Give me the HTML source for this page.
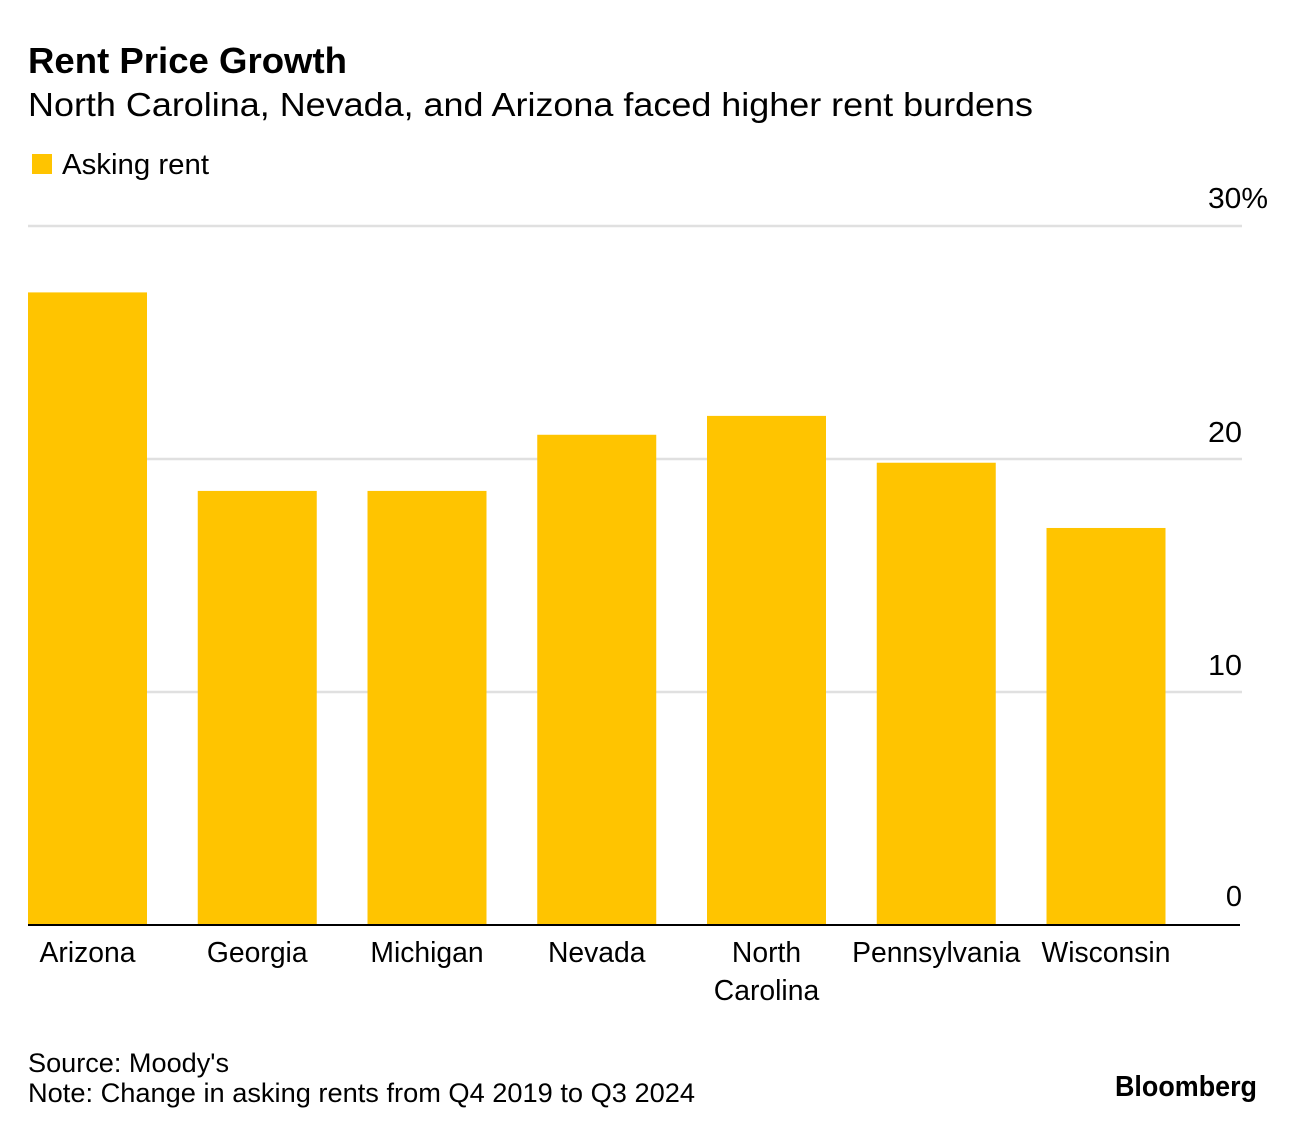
<!DOCTYPE html>
<html>
<head>
<meta charset="utf-8">
<style>
html,body{margin:0;padding:0;background:#fff;width:1296px;height:1132px;overflow:hidden}
svg{display:block}
text{font-family:"Liberation Sans",sans-serif;fill:#000}
</style>
</head>
<body>
<svg id="chart" width="1296" height="1132" viewBox="0 0 1296 1132" xmlns="http://www.w3.org/2000/svg">
<rect width="1296" height="1132" fill="#fff"/>
<text x="28" y="73" font-size="36" font-weight="700" textLength="319" lengthAdjust="spacingAndGlyphs">Rent Price Growth</text>
<text x="28" y="116" font-size="33" textLength="1005" lengthAdjust="spacingAndGlyphs">North Carolina, Nevada, and Arizona faced higher rent burdens</text>
<rect x="32" y="154" width="20" height="20" fill="#ffc400"/>
<text x="62" y="174" font-size="29" textLength="147" lengthAdjust="spacingAndGlyphs">Asking rent</text>
<g id="grid"></g>
<g id="bars"></g>
<g id="xlabels"></g>
<line x1="28" x2="1240" y1="925" y2="925" stroke="#000" stroke-width="2"/>
<text x="28" y="1072" font-size="27" textLength="201" lengthAdjust="spacingAndGlyphs">Source: Moody's</text>
<text x="28" y="1102" font-size="27" textLength="667" lengthAdjust="spacingAndGlyphs">Note: Change in asking rents from Q4 2019 to Q3 2024</text>
<text x="1115" y="1096" font-size="29" font-weight="700" textLength="142" lengthAdjust="spacingAndGlyphs">Bloomberg</text>
</svg>
<script>
const categories = [["Arizona"],["Georgia"],["Michigan"],["Nevada"],["North","Carolina"],["Pennsylvania"],["Wisconsin"]];
const askingRent = [27.15,18.63,18.63,21.04,21.85,19.84,17.04];
const yTicks = [0,10,20,30];
const yTickLabels = ["0","10","20","30%"];

const NS = "http://www.w3.org/2000/svg";
const y = v => 925 - v * (925 - 226) / 30;
const bandStart = i => 28 + i * 169.75;
const barWidth = 119;
const gridG = document.getElementById("grid");
const barsG = document.getElementById("bars");
const xG = document.getElementById("xlabels");

yTicks.forEach((t, i) => {
  if (t !== 0) {
    const l = document.createElementNS(NS, "line");
    
    
    l.setAttribute("x1", 28);
    l.setAttribute("x2", 1242);
    l.setAttribute("y1", y(t));
    l.setAttribute("y2", y(t));
    l.setAttribute("stroke", "#e0e0e0");
    l.setAttribute("stroke-width", 2.5);
    gridG.appendChild(l);
  }
  const tx = document.createElementNS(NS, "text");
  
  
  tx.setAttribute("font-size", 29);
  if (t === 30) {
    tx.setAttribute("x", 1208);
    tx.setAttribute("y", y(t) - 18);
    tx.setAttribute("textLength", 60);
    tx.setAttribute("lengthAdjust", "spacingAndGlyphs");
  } else {
    tx.setAttribute("x", 1242);
    tx.setAttribute("y", y(t) - (t === 0 ? 19 : 17));
    tx.setAttribute("text-anchor", "end");
    if (t !== 0) {
      tx.setAttribute("textLength", 34);
      tx.setAttribute("lengthAdjust", "spacingAndGlyphs");
    }
  }
  tx.textContent = yTickLabels[i];
  gridG.appendChild(tx);
});

askingRent.forEach((v, i) => {
  const r = document.createElementNS(NS, "rect");
  
  
  r.setAttribute("x", bandStart(i));
  r.setAttribute("y", y(v));
  r.setAttribute("width", barWidth);
  r.setAttribute("height", y(0) - y(v));
  r.setAttribute("fill", "#ffc400");
  barsG.appendChild(r);

  categories[i].forEach((line, j) => {
    const t = document.createElementNS(NS, "text");
    
    
    t.setAttribute("x", bandStart(i) + barWidth / 2);
    t.setAttribute("y", 962 + j * 38);
    t.setAttribute("font-size", 28.3);
    t.setAttribute("text-anchor", "middle");
    t.textContent = line;
    xG.appendChild(t);
  });
});
</script>
</body>
</html>
